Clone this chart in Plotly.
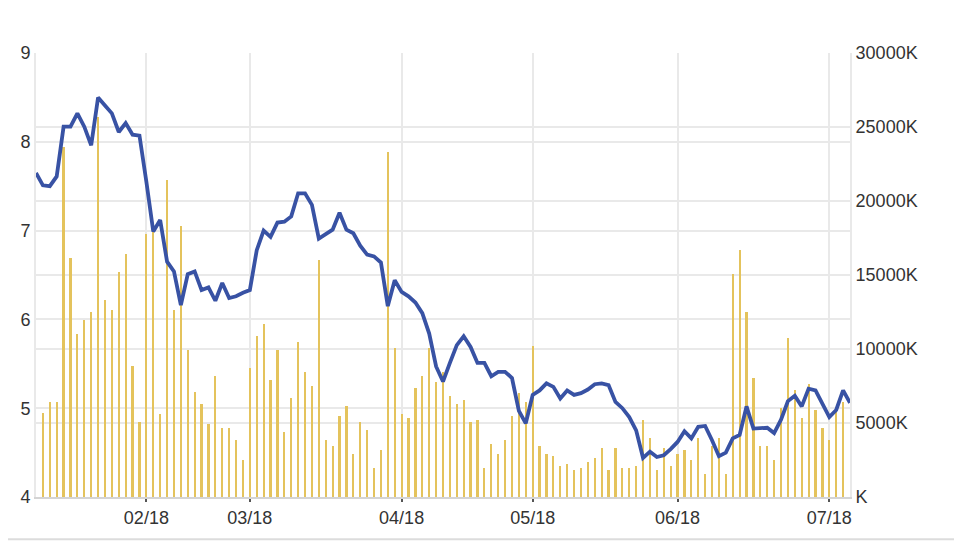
import plotly.graph_objects as go

# closing price (left axis), one value per trading day
price = [7.65, 7.51, 7.50, 7.61, 8.17, 8.17, 8.32, 8.17, 7.96, 8.50,
         8.41, 8.32, 8.11, 8.21, 8.08, 8.07, 7.55, 6.99, 7.12, 6.65,
         6.54, 6.16, 6.51, 6.54, 6.33, 6.36, 6.21, 6.41, 6.24, 6.26,
         6.30, 6.33, 6.78, 7.00, 6.93, 7.09, 7.10, 7.16, 7.42, 7.42,
         7.29, 6.91, 6.96, 7.01, 7.20, 7.01, 6.97, 6.83, 6.73, 6.71,
         6.64, 6.15, 6.44, 6.31, 6.26, 6.19, 6.07, 5.84, 5.47, 5.30,
         5.51, 5.71, 5.81, 5.69, 5.51, 5.51, 5.36, 5.41, 5.41, 5.34,
         4.97, 4.83, 5.15, 5.20, 5.28, 5.24, 5.11, 5.20, 5.15, 5.17,
         5.21, 5.27, 5.28, 5.26, 5.07, 5.00, 4.90, 4.75, 4.44, 4.51,
         4.45, 4.47, 4.54, 4.62, 4.74, 4.66, 4.79, 4.80, 4.64, 4.46,
         4.50, 4.66, 4.70, 5.02, 4.77, 4.78, 4.78, 4.72, 4.87, 5.08,
         5.14, 5.02, 5.22, 5.20, 5.06, 4.90, 4.98, 5.20, 5.06]

# traded volume in thousands (right axis)
volume = [None, 5650, 6440, 6440, 23670, 16130, 11010, 11960, 12480, 25700,
          13310, 12640, 15180, 16420, 8850, 5090, 17770, 17900, 5610, 21420,
          12640, 18310, 9930, 7090, 6280, 4930, 8180, 4660, 4660, 3850,
          2500, 8720, 10880, 11690, 7910, 9930, 4390, 6690, 10470, 8450,
          7500, 16010, 3850, 3450, 5470, 6150, 2910, 5070, 4530, 1960,
          3180, 23310, 10070, 5610, 5340, 7360, 8180, 10070, 7770, 8450,
          6820, 6280, 6550, 5070, 5200, 1960, 3580, 2910, 3850, 5470,
          7000, 6440, 10200, 3450, 2910, 2770, 2090, 2230, 1820, 1960,
          2360, 2640, 3310, 1820, 3310, 1960, 1960, 2090, 5200, 3990,
          1820, 3310, 2090, 2910, 3180, 2500, 3990, 1550, 3450, 3990,
          1550, 15070, 16690, 12500, 8040, 3450, 3450, 2500, 6010, 10740,
          7230, 5340, 7640, 5880, 4660, 3850, 5740, 6440, None]

# month ticks: trading-day index of the first session of each month
tick_idx = [16, 31, 53, 72, 93, 115]
tick_labels = ["02/18", "03/18", "04/18", "05/18", "06/18", "07/18"]

price_ticks = [4, 5, 6, 7, 8, 9]
volume_ticks = [0, 5000, 10000, 15000, 20000, 25000, 30000]
volume_labels = ["K", "5000K", "10000K", "15000K", "20000K", "25000K", "30000K"]

days = list(range(len(price)))

GRID = "#e9e9e9"
TXT = "#333333"

fig = go.Figure()
fig.add_trace(go.Bar(x=days, y=volume, yaxis="y", width=0.32,
                     marker=dict(color="#e4c35c", line=dict(width=0)),
                     showlegend=False))
fig.add_trace(go.Scatter(x=days, y=price, yaxis="y2", mode="lines",
                         line=dict(color="#3852a4", width=3.8),
                         showlegend=False))

# the page body adds an 8px offset, so the figure is sized to fit the window
fig.update_layout(
    width=954, height=534,
    margin=dict(l=26, r=112, t=45, b=45),
    paper_bgcolor="white", plot_bgcolor="white",
    font=dict(family="Liberation Sans, Arial, sans-serif", size=18, color=TXT),
    bargap=0,
    xaxis=dict(range=[0, len(price) - 1], tickmode="array",
               tickvals=tick_idx, ticktext=tick_labels,
               showgrid=True, gridcolor=GRID, gridwidth=2,
               showline=True, linecolor="#d4d4d4", linewidth=2,
               ticks="outside", ticklen=3, tickwidth=2, tickcolor="#555555",
               zeroline=False),
    yaxis=dict(side="right", range=[0, 30000], tickmode="array",
               tickvals=volume_ticks, ticktext=volume_labels,
               showgrid=True, gridcolor=GRID, gridwidth=2,
               showline=True, linecolor=GRID, linewidth=2,
               zeroline=False, ticks=""),
    yaxis2=dict(side="left", overlaying="y", range=[4, 9], tickmode="array",
                tickvals=price_ticks,
                showgrid=True, gridcolor=GRID, gridwidth=2,
                showline=True, linecolor=GRID, linewidth=2,
                zeroline=False, ticks=""),
    shapes=[dict(type="line", xref="paper", yref="paper",
                 x0=-0.1, x1=1.2, y0=-0.095, y1=-0.095,
                 line=dict(color="#dcdcdc", width=2))],
)

fig.write_html("out.html")
